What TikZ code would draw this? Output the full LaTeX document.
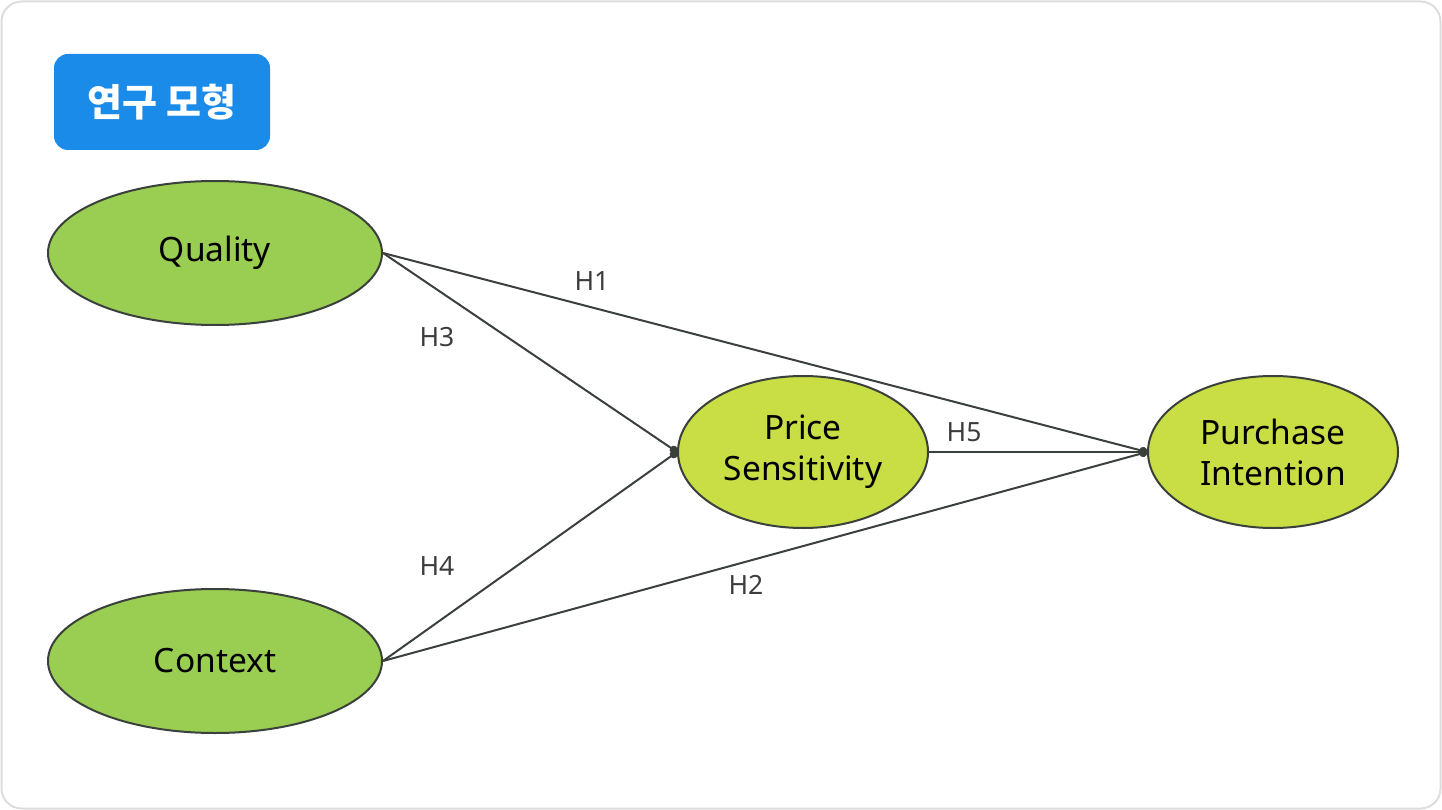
\documentclass[tikz,border=0pt]{standalone}
\usepackage{fontspec}
\setmainfont{Noto Sans}
\newfontfamily\krfont{Noto Sans CJK KR}
\usetikzlibrary{shapes.geometric,arrows.meta}
\definecolor{framegray}{HTML}{DDDDDD}
\definecolor{titleblue}{HTML}{1A8BE9}
\definecolor{linegray}{HTML}{3A403C}
\definecolor{outergreen}{HTML}{9ACE52}
\definecolor{innergreen}{HTML}{C9DD44}
\definecolor{labelgray}{HTML}{3C3C3C}
\begin{document}
\begin{tikzpicture}[x=1pt, y=-1pt, line width=2pt,
  main node/.style={ellipse,draw=linegray,inner sep=0pt,align=center,font=\fontsize{33.5}{41}\selectfont},
  outer node/.style={main node,fill=outergreen,minimum width=334pt,minimum height=144pt},
  inner node/.style={main node,fill=innergreen,minimum width=250pt,minimum height=152pt},
  hyp/.style={draw=linegray,-{Circle[length=8pt]}},
  hyp label/.style={font=\fontsize{26.5}{30}\selectfont,text=labelgray}]
\useasboundingbox (0,0) rectangle (1442,810);
\draw[framegray,rounded corners=20pt] (1.5,1.5) rectangle (1440.5,808.5);
\node[fill=titleblue,rounded corners=14pt,minimum width=216pt,minimum height=96pt,text=white,font=\krfont\bfseries\fontsize{38}{42}\selectfont](title) at (162,102) {연구 모형};
\begin{scope}
\node [outer node](quality) at (215,253) {Quality};
\node [outer node](context) at (215,661) {Context};
\node [inner node](price) at (803,452) {Price\\Sensitivity};
\node [inner node](purchase) at (1273,452) {Purchase\\Intention};
\end{scope}
\path 
	(quality.east) edge[hyp] (price.west)
	(quality.east) edge[hyp] (purchase.west)
	(context.east) edge[hyp] (price.west)
	(context.east) edge[hyp] (purchase.west)
	(price.east) edge[hyp] (purchase.west)
	;
\node[hyp label](h1) at (592,281) {H1};
\node[hyp label](h2) at (746,585) {H2};
\node[hyp label](h3) at (437,337) {H3};
\node[hyp label](h4) at (437,566) {H4};
\node[hyp label](h5) at (964,432) {H5};
\end{tikzpicture}
\end{document}
